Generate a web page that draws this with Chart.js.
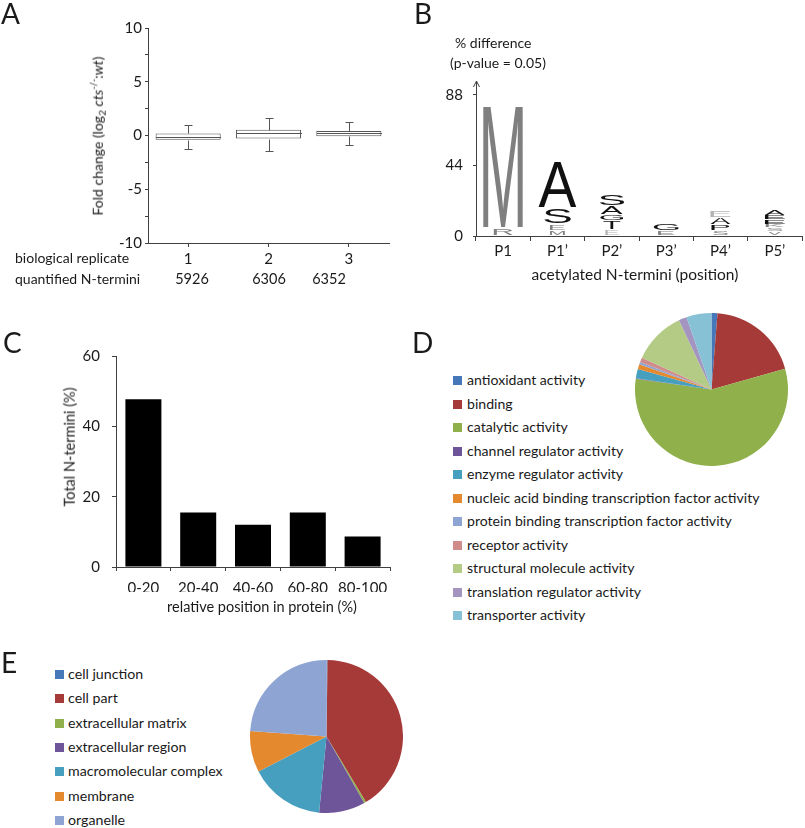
<!DOCTYPE html>
<html>
<head>
<meta charset="utf-8">
<script src="https://cdn.jsdelivr.net/npm/chart.js@4.4.0/dist/chart.umd.min.js"></script>
<style>
  body { margin: 0; background: #fff; width: 805px; height: 828px; position: relative; overflow: hidden;
         font-family: Lato, "Open Sans", sans-serif; color: #1a1a1a; }
  canvas { position: absolute; }
  .t { position: absolute; white-space: nowrap; font-size: 15px; line-height: 1; }
  .panel { font-size: 28px; }
  .sq { position: absolute; width: 9px; height: 9px; }
</style>
</head>
<body>
<canvas id="cA" width="400" height="300" style="left:0;top:0"></canvas>
<canvas id="cB" width="405" height="300" style="left:400px;top:0"></canvas>
<canvas id="cC" width="400" height="300" style="left:0;top:300px"></canvas>
<canvas id="cD" width="153" height="153" style="left:635px;top:313px"></canvas>
<canvas id="cE" width="153" height="153" style="left:250px;top:660px"></canvas>
<script>
// A — fold change box plot per biological replicate
const replicates = ["1", "2", "3"];
const replicateCounts = ["5926", "6306", "6352"];
const boxLow = [-1.27, -1.42, -0.86];
const boxQ1 = [-0.4, -0.28, -0.06];
const boxMedian = [-0.12, 0.19, 0.2];
const boxQ3 = [0.19, 0.53, 0.43];
const boxHigh = [1.02, 1.67, 1.23];

// B — sequence logo, one row per stacked layer (bottom -> top), one column per position
const logoPositions = ["P1", "P1’", "P2’", "P3’", "P4’", "P5’"];
const logoLetters = [
  ["R", "M", "E", "E", "S", "V"],
  ["M", "E", "T", "G", "P", "S"],
  ["", "S", "G", "", "A", "K"],
  ["", "A", "A", "", "E", "E"],
  ["", "", "S", "", "", "E"],
  ["", "", "", "", "", "A"],
];
const logoHeights = [
  [5, 3.5, 4, 3.5, 3.5, 2.7],
  [76, 4, 5.5, 5, 3.5, 2.3],
  [0, 10, 4, 0, 4.5, 2.4],
  [0, 28.5, 5.5, 0, 4.5, 2.8],
  [0, 0, 7, 0, 0, 2.8],
  [0, 0, 0, 0, 0, 4],
];
const logoTicks = [0, 44, 88];

// C — N-termini by relative position
const binLabels = ["0-20", "20-40", "40-60", "60-80", "80-100"];
const binValues = [47.7, 15.5, 12.0, 15.5, 8.7];

// D — molecular function
const mfLabels = ["antioxidant activity", "binding", "catalytic activity", "channel regulator activity",
  "enzyme regulator activity", "nucleic acid binding transcription factor activity",
  "protein binding transcription factor activity", "receptor activity", "structural molecule activity",
  "translation regulator activity", "transporter activity"];
const mfValues = [1.25, 19.4, 56.7, 0.1, 2.0, 1.0, 0.5, 1.0, 11.2, 1.7, 5.3];

// E — cellular component
const ccLabels = ["cell junction", "cell part", "extracellular matrix", "extracellular region",
  "macromolecular complex", "membrane", "organelle"];
const ccValues = [0.22, 41.2, 0.42, 9.75, 15.9, 8.7, 23.9];

// styles
const AXIS = "#404040";
const SHADE = { g: "#7f7f7f", k: "#111111", l: "#b3b3b3" };
const logoShades = [
  ["g", "g", "l", "g", "g", "g"],
  ["g", "g", "k", "k", "k", "g"],
  ["", "k", "k", "", "k", "g"],
  ["", "k", "k", "", "l", "k"],
  ["", "", "k", "", "", "k"],
  ["", "", "", "", "", "k"],
];
const logoWidths = [ // px
  [19, 15, 13, 16, 15, 12],
  [40, 15, 17, 25, 18, 16],
  [0, 27, 23, 0, 20, 18],
  [0, 38, 22, 0, 20, 20],
  [0, 0, 25, 0, 0, 20],
  [0, 0, 0, 0, 0, 20],
];
const pieColors = ["#4677B8", "#A53A38", "#8FB04B", "#6E5499", "#469FBF", "#E5892F",
  "#8EA5D3", "#D08C8A", "#B4CB85", "#A395BF", "#86C1D6"];

Chart.defaults.font.family = 'Lato, "Open Sans", sans-serif';
Chart.defaults.font.size = 15;
Chart.defaults.color = "#1a1a1a";
Chart.defaults.animation = false;
Chart.defaults.events = [];
Chart.defaults.plugins.legend.display = false;
Chart.defaults.plugins.tooltip.enabled = false;

// html text helper: x/y is the anchor, align "l" (left edge) or "c" (center), always vertically centred
function text(html, x, y, { align = "l", cls = "", size, rotate } = {}) {
  const d = document.createElement("div");
  d.className = "t " + cls;
  d.innerHTML = html;
  d.style.left = x + "px";
  d.style.top = y + "px";
  if (size) d.style.fontSize = size + "px";
  let tf = align === "c" ? "translate(-50%,-50%)" : "translate(0,-50%)";
  if (rotate) tf += " rotate(-90deg)";
  d.style.transform = tf;
  document.body.appendChild(d);
}

// ---- A ----
const boxWhiskers = {
  id: "boxWhiskers",
  afterDatasetsDraw(chart) {
    const { ctx, scales: { y } } = chart;
    ctx.save();
    ctx.strokeStyle = "#555";
    ctx.lineWidth = 1;
    chart.getDatasetMeta(0).data.forEach((bar, i) => {
      const cx = Math.round(bar.x) + 0.5, half = bar.width / 2;
      const py = (v) => Math.round(y.getPixelForValue(v)) + 0.5;
      ctx.beginPath();
      ctx.moveTo(cx - half, py(boxMedian[i])); ctx.lineTo(cx + half, py(boxMedian[i]));
      ctx.moveTo(cx, py(boxQ3[i])); ctx.lineTo(cx, py(boxHigh[i]));
      ctx.moveTo(cx - 4, py(boxHigh[i])); ctx.lineTo(cx + 4, py(boxHigh[i]));
      ctx.moveTo(cx, py(boxQ1[i])); ctx.lineTo(cx, py(boxLow[i]));
      ctx.moveTo(cx - 4, py(boxLow[i])); ctx.lineTo(cx + 4, py(boxLow[i]));
      ctx.stroke();
    });
    ctx.restore();
  },
};

new Chart(document.getElementById("cA"), {
  type: "bar",
  data: {
    labels: replicates,
    datasets: [{
      data: boxQ1.map((q, i) => [q, boxQ3[i]]),
      backgroundColor: "#fff", borderColor: "#555", borderWidth: 1, borderSkipped: false,
      barPercentage: 0.81, categoryPercentage: 1,
    }],
  },
  options: {
    responsive: false,
    layout: { padding: { left: 108, right: 11, top: 28, bottom: 27 } },
    scales: {
      x: {
        grid: { drawOnChartArea: false, offset: false, tickLength: 4, color: AXIS },
        border: { color: AXIS },
        ticks: { padding: 3 },
        afterFit: (s) => { s.height = 30; },
      },
      y: {
        min: -10, max: 10,
        ticks: { stepSize: 2.5, padding: 3, callback: (v) => (v % 5 === 0 ? v : "") },
        grid: { drawOnChartArea: false, tickLength: 3, color: AXIS },
        border: { color: AXIS },
        afterFit: (s) => { s.width = 40; },
      },
    },
  },
  plugins: [boxWhiskers],
});

// ---- B ----
const logoDraw = {
  id: "logoDraw",
  afterDatasetsDraw(chart) {
    const { ctx } = chart;
    ctx.save();
    ctx.font = '100px "Liberation Sans", Arial, sans-serif';
    ctx.textAlign = "left";
    ctx.textBaseline = "alphabetic";
    logoLetters.forEach((row, l) => {
      chart.getDatasetMeta(l).data.forEach((el, i) => {
        const ch = row[i];
        if (!ch || !logoHeights[l][i]) return;
        const top = el.y + 0.6, h = el.base - el.y - 1.2, w = logoWidths[l][i];
        if (h <= 0.5) return;
        const m = ctx.measureText(ch);
        const inkW = m.actualBoundingBoxLeft + m.actualBoundingBoxRight;
        const inkH = m.actualBoundingBoxAscent + m.actualBoundingBoxDescent;
        ctx.save();
        ctx.translate(el.x - w / 2, top);
        ctx.scale(w / inkW, h / inkH);
        ctx.fillStyle = SHADE[logoShades[l][i]];
        ctx.fillText(ch, m.actualBoundingBoxLeft, m.actualBoundingBoxAscent);
        ctx.restore();
      });
    });
    ctx.restore();
  },
};
const axisArrow = {
  id: "axisArrow",
  afterDraw(chart) {
    const { ctx, chartArea: { left, top } } = chart;
    ctx.save();
    ctx.strokeStyle = AXIS;
    ctx.lineWidth = 1;
    ctx.beginPath();
    ctx.moveTo(left - 2.5, top + 5); ctx.lineTo(left + 0.5, top - 1); ctx.lineTo(left + 3.5, top + 5);
    ctx.stroke();
    ctx.restore();
  },
};

new Chart(document.getElementById("cB"), {
  type: "bar",
  data: {
    labels: logoPositions,
    datasets: logoHeights.map((row) => ({
      data: row, backgroundColor: "transparent", borderWidth: 0,
      barPercentage: 1, categoryPercentage: 1, stack: "logo",
    })),
  },
  options: {
    responsive: false,
    layout: { padding: { left: 36, right: 3, top: 82, bottom: 34 } },
    scales: {
      x: {
        stacked: true,
        grid: { drawOnChartArea: false, tickLength: 5, color: AXIS },
        border: { color: AXIS },
        ticks: { padding: 1 },
        afterFit: (s) => { s.height = 30; },
      },
      y: {
        stacked: true, min: 0, max: 96,
        afterBuildTicks: (s) => { s.ticks = logoTicks.map((v) => ({ value: v })); },
        ticks: { padding: 10 },
        grid: { drawOnChartArea: false, tickLength: 3, color: AXIS },
        border: { color: AXIS },
        afterFit: (s) => { s.width = 40; },
      },
    },
  },
  plugins: [logoDraw, axisArrow],
});

// ---- C ----
new Chart(document.getElementById("cC"), {
  type: "bar",
  data: {
    labels: binLabels,
    datasets: [{ data: binValues, backgroundColor: "#000", barPercentage: 0.657, categoryPercentage: 1 }],
  },
  options: {
    responsive: false,
    layout: { padding: { left: 76, right: 10, top: 56, bottom: 8 } },
    scales: {
      x: {
        grid: { drawOnChartArea: false, tickLength: 4, color: AXIS },
        border: { color: AXIS },
        ticks: { padding: 8, maxRotation: 0, minRotation: 0, autoSkip: false },
        afterFit: (s) => { s.height = 25; },
      },
      y: {
        min: 0, max: 60,
        ticks: { stepSize: 20, padding: 12 },
        grid: { drawOnChartArea: false, tickLength: 4, color: AXIS },
        border: { color: AXIS },
        afterFit: (s) => { s.width = 40; },
      },
    },
  },
});

// ---- D / E pies ----
function pie(id, values, colors) {
  new Chart(document.getElementById(id), {
    type: "pie",
    data: { datasets: [{ data: values, backgroundColor: colors, borderWidth: 0 }] },
    options: { responsive: false, layout: { padding: 0 } },
  });
}
pie("cD", mfValues, pieColors.slice(0, mfValues.length));
pie("cE", ccValues, pieColors.slice(0, ccValues.length));

function legend(labels, sqX, txtX, y0, step, size) {
  labels.forEach((lab, i) => {
    const y = y0 + i * step;
    const s = document.createElement("div");
    s.className = "sq";
    s.style.left = sqX + "px";
    s.style.top = (y - 4) + "px";
    s.style.background = pieColors[i];
    document.body.appendChild(s);
    text(lab, txtX, y, { size });
  });
}
legend(mfLabels, 453, 467, 380, 23.5, 14.1);
legend(ccLabels, 55, 68, 674, 24.3, 14.2);

// ---- text ----
text("A", 1, 13, { cls: "panel" });
text("B", 414, 13, { cls: "panel" });
text("C", 3, 342, { cls: "panel" });
text("D", 412, 342, { cls: "panel" });
text("E", 1, 662, { cls: "panel" });

text("Fold change (log<sub style='font-size:10px'>2</sub> <i>cts</i><sup style='font-size:9px'>-/-</sup>:<i>wt</i>)", 98, 136, { align: "c", rotate: true, size: 14 });
text("biological replicate", 15, 258, { size: 14 });
text("quantified N-termini", 15, 279, { size: 14 });
[192, 269, 329].forEach((x, i) => text(replicateCounts[i], x, 279, { align: "c", size: 14.5 }));

text("% difference", 455, 43, { size: 14 });
text("(p-value = 0.05)", 450, 63, { size: 14 });
text("acetylated N-termini (position)", 635, 275, { align: "c", size: 15.5 });

text("Total N-termini (%)", 70, 447, { align: "c", rotate: true, size: 14.5 });
text("relative position in protein (%)", 262, 607, { align: "c", size: 14.5 });
</script>
</body>
</html>
